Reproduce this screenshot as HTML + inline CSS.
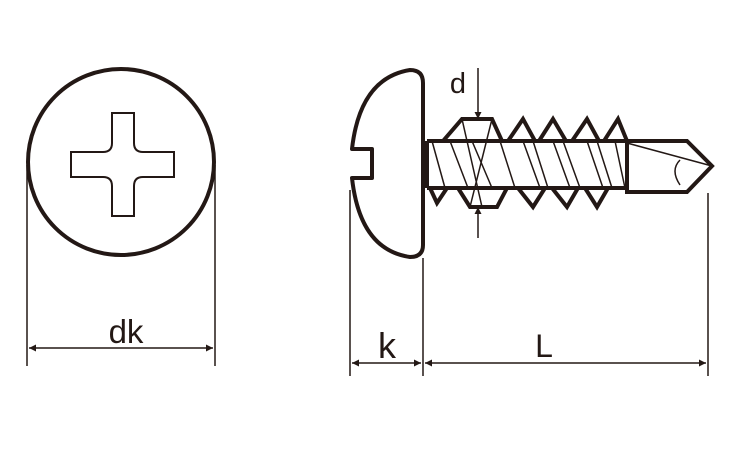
<!DOCTYPE html>
<html><head><meta charset="utf-8"><style>html,body{margin:0;padding:0;background:#fff}svg{display:block}</style></head>
<body>
<svg width="750" height="450" viewBox="0 0 750 450" xmlns="http://www.w3.org/2000/svg">
<defs>
<marker id="a" viewBox="0 0 10 10" refX="10" refY="5" markerWidth="14" markerHeight="7" markerUnits="userSpaceOnUse" orient="auto-start-reverse"><path d="M0,0 L10,5 L0,10 Z" fill="#231815"/></marker>
</defs>
<g fill="none" stroke="#231815">
<circle cx="121" cy="162" r="93" stroke-width="4"/>
<path d="M112,113 H134 V143 Q134,152 143,152 H174 V177 H143 Q134,177 134,186 V216 H112 V186 Q112,177 103,177 H71 V152 H103 Q112,152 112,143 Z" stroke-width="2"/>
<line x1="27" y1="165" x2="27" y2="366" stroke-width="1.5"/>
<line x1="215" y1="165" x2="215" y2="366" stroke-width="1.5"/>
<line x1="29" y1="348" x2="213" y2="348" stroke-width="1.5" marker-start="url(#a)" marker-end="url(#a)"/>
<path d="M410,70 Q423,70 423,83 V245 Q423,257 410,257 Q360,250 352,178 H372 V149 H352 Q360,78 410,70 Z" stroke-width="4" stroke-linejoin="round"/>
<path d="M427,141 H627 M427,188 H627 M427,141 V188" stroke-width="4"/>
<polyline points="430,141 443,141 462,119 492,119 502,141 508,141 523,119 535,141 539,141 553,119 566,141 572,141 587,119 599,141 604,141 618,119 627,141" stroke-width="4" stroke-linejoin="miter"/>
<polyline points="430,188 437,203 447,188 458,188 470,207 497,207 507,188 518,188 533,207 545,188 552,188 567,207 578,188 585,188 597,207 608,188 627,188" stroke-width="4"/>
<g stroke-width="1.5">
<line x1="432" y1="141" x2="445" y2="188"/><line x1="450" y1="141" x2="468" y2="188"/>
<line x1="462" y1="119" x2="482" y2="207"/><line x1="472" y1="141" x2="492" y2="188"/>
<line x1="492" y1="119" x2="470" y2="207"/><line x1="500" y1="141" x2="515" y2="188"/>
<line x1="523" y1="141" x2="540" y2="188"/><line x1="533" y1="141" x2="548" y2="188"/>
<line x1="553" y1="141" x2="570" y2="188"/><line x1="563" y1="141" x2="580" y2="188"/>
<line x1="587" y1="141" x2="603" y2="188"/><line x1="597" y1="141" x2="612" y2="188"/>
<line x1="615" y1="141" x2="625" y2="188"/>
</g>
<path d="M627,141 H687 L712,166 L687,192 H627 Z" stroke-width="4" stroke-linejoin="miter"/>
<path d="M627,143 L712,166 M680,160 Q670,170 680,185" stroke-width="1.5"/>
<line x1="478" y1="68" x2="478" y2="119" stroke-width="1.5" marker-end="url(#a)"/>
<line x1="478" y1="238" x2="478" y2="207" stroke-width="1.5" marker-end="url(#a)"/>
<line x1="350" y1="190" x2="350" y2="376" stroke-width="1.5"/>
<line x1="423" y1="258" x2="423" y2="376" stroke-width="1.5"/>
<line x1="708" y1="193" x2="708" y2="376" stroke-width="1.5"/>
<line x1="352" y1="363" x2="421" y2="363" stroke-width="1.5" marker-start="url(#a)" marker-end="url(#a)"/>
<line x1="425" y1="363" x2="706" y2="363" stroke-width="1.5" marker-start="url(#a)" marker-end="url(#a)"/>
</g>
<g fill="#231815" font-family="Liberation Sans, sans-serif" text-anchor="middle">
<text x="126" y="343" font-size="33">dk</text>
<text x="387" y="358" font-size="36">k</text>
<text x="544" y="357" font-size="32">L</text>
<text x="458" y="93" font-size="29">d</text>
</g>
</svg>
</body></html>
